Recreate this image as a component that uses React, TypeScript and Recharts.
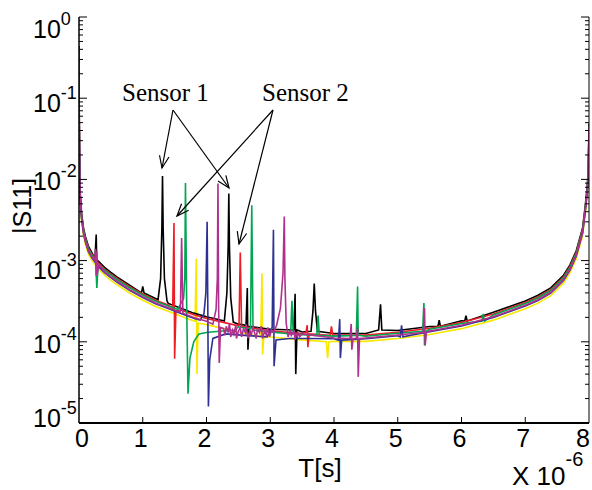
import React from 'react';
import { LineChart, Line, XAxis, YAxis } from 'recharts';

// shared bathtub baseline (T in units of 1e-6 s)
const baseX = [0, 0.004, 0.01, 0.02, 0.04, 0.07, 0.1, 0.15, 0.2, 0.3, 0.4, 0.5, 0.6, 0.8, 1.0, 1.2, 1.4, 1.6, 1.8, 2.0, 2.2, 2.5, 3.0, 3.5, 4.0, 4.5, 5.0, 5.5, 6.0, 6.5, 7.0, 7.2, 7.4, 7.6, 7.7, 7.8, 7.9, 7.94, 7.97, 7.99, 8.0];
const baseY = [0.4, 0.05, 0.015, 6e-3, 3.5e-3, 2.3e-3, 1.8e-3, 1.35e-3, 1.15e-3, 9e-4, 7.5e-4, 6.5e-4, 5.7e-4, 4.5e-4, 3.7e-4, 3.1e-4, 2.7e-4, 2.35e-4, 2.05e-4, 1.85e-4, 1.7e-4, 1.5e-4, 1.3e-4, 1.2e-4, 1.15e-4, 1.15e-4, 1.25e-4, 1.4e-4, 1.65e-4, 2.1e-4, 2.9e-4, 3.4e-4, 4.2e-4, 6e-4, 8e-4, 1.2e-3, 2.3e-3, 4.2e-3, 7e-3, 1.2e-2, 4.4e-2];

// per-trace level relative to the baseline
const levels = { yellow: 0.88, black: 1.1, red: 1.05, green: 1.02, blue: 0.95, magenta: 0.97 };

// resonance spikes / dips, [T, |S11|]
const blackSpikes = [
  [[0.25, 1.05e-3], [0.27, 2.1e-3], [0.28, 8e-4], [0.29, 1.0e-3]],
  [[0.98, 4.0e-4], [1.0, 4.8e-4], [1.02, 4.0e-4]],
  [[1.24, 3.3e-4], [1.28, 6e-4], [1.30, 2.5e-3], [1.31, 1.1e-2], [1.32, 2.5e-3], [1.34, 6e-4], [1.38, 3.2e-4]],
  [[2.28, 1.8e-4], [2.32, 4e-4], [2.34, 1.5e-3], [2.35, 6.7e-3], [2.36, 1.5e-3], [2.38, 3.5e-4], [2.42, 1.75e-4]],
  [[2.62, 1.6e-4], [2.64, 4.6e-4], [2.65, 8e-5], [2.67, 1.55e-4]],
  [[3.37, 1.4e-4], [3.39, 3.9e-4], [3.40, 4e-5], [3.42, 1.4e-4]],
  [[3.64, 1.35e-4], [3.67, 2.4e-4], [3.69, 5.2e-4], [3.71, 2.4e-4], [3.74, 1.35e-4]],
  [[4.70, 1.4e-4], [4.73, 2.9e-4], [4.75, 1.4e-4]],
  [[5.63, 1.55e-4], [5.65, 1.85e-4], [5.67, 1.55e-4]],
  [[6.05, 1.8e-4], [6.07, 2.1e-4], [6.09, 1.8e-4]],
];
const redSpikes = [
  [[1.47, 2.6e-4], [1.49, 2.9e-3], [1.50, 6.2e-5], [1.52, 2.4e-4]],
  [[2.51, 1.6e-4], [2.53, 1.26e-3], [2.55, 1.55e-4]],
  [[3.56, 1.3e-4], [3.58, 1.6e-4], [3.59, 8.6e-5], [3.61, 1.25e-4]],
  [[3.94, 1.2e-4], [3.96, 1.55e-4], [3.98, 1.2e-4]],
];
const greenSpikes = [
  [[0.26, 1.0e-3], [0.28, 4.6e-4], [0.30, 9e-4]],
  [[1.55, 2.5e-4], [1.60, 3.0e-4], [1.64, 3.4e-4], [1.66, 6e-4], [1.67, 9e-3], [1.69, 2.5e-4], [1.71, 2.3e-5], [1.74, 6.3e-5], [1.80, 1.0e-4], [1.88, 1.25e-4], [2.0, 1.3e-4], [2.2, 1.35e-4], [2.45, 1.4e-4]],
  [[2.69, 1.45e-4], [2.71, 4.8e-3], [2.73, 1.4e-4]],
  [[3.32, 1.25e-4], [3.34, 3.2e-4], [3.36, 1.25e-4]],
  [[3.73, 1.2e-4], [3.75, 2.1e-4], [3.77, 1.2e-4]],
  [[4.35, 1.2e-4], [4.37, 4.8e-4], [4.38, 1.2e-4]],
  [[5.39, 1.35e-4], [5.41, 3e-4], [5.42, 9e-5], [5.44, 1.35e-4]],
  [[6.32, 1.8e-4], [6.34, 2.2e-4], [6.36, 1.8e-4]],
];
const yellowSpikes = [
  [[1.82, 1.8e-4], [1.84, 1.05e-3], [1.85, 4e-5], [1.87, 1.7e-4]],
  [[2.85, 1.15e-4], [2.87, 7e-4], [2.88, 7e-5], [2.90, 1.15e-4]],
  [[3.88, 1.0e-4], [3.90, 6.3e-5], [3.92, 1.0e-4]],
];
const blueSpikes = [
  [[1.90, 1.85e-4], [1.96, 2.2e-4], [1.99, 4e-4], [2.01, 3e-3], [2.02, 3e-4], [2.03, 1.6e-5], [2.05, 6e-5], [2.10, 1.1e-4], [2.3, 1.25e-4], [2.6, 1.2e-4], [2.95, 1.15e-4], [3.03, 1.5e-4], [3.05, 2.4e-3], [3.06, 5e-5], [3.09, 1.05e-4], [3.3, 1.1e-4], [3.6, 1.1e-4]],
  [[4.07, 1.05e-4], [4.09, 1.9e-4], [4.10, 6.3e-5], [4.12, 1.05e-4]],
  [[5.04, 1.15e-4], [5.06, 1.6e-4], [5.08, 1.15e-4]],
];
const magentaSpikes = [
  [[0.25, 1.0e-3], [0.26, 1.4e-3], [0.27, 6.5e-4], [0.28, 1.3e-3], [0.29, 7e-4], [0.31, 9e-4]],
  [[1.59, 2.3e-4], [1.61, 1.9e-3], [1.63, 2.25e-4]],
  [[2.10, 1.65e-4], [2.15, 2.5e-4], [2.17, 6e-4], [2.18, 8.9e-3], [2.19, 3e-4], [2.20, 5.5e-5], [2.22, 1.5e-4]],
  [[2.27, 1.45e-4], [2.29, 1.2e-4], [2.31, 1.55e-4], [2.34, 1.3e-4], [2.36, 1.7e-4], [2.38, 1.15e-4], [2.41, 1.4e-4], [2.43, 1.25e-4], [2.46, 1.6e-4], [2.47, 1.1e-4], [2.50, 1.35e-4], [2.53, 1.5e-4], [2.55, 1.15e-4], [2.58, 1.45e-4], [2.61, 1.3e-4], [2.62, 1.65e-4], [2.65, 1.1e-4], [2.68, 1.4e-4], [2.70, 1.2e-4], [2.73, 1.5e-4], [2.76, 1.25e-4], [2.78, 1.1e-4], [2.80, 1.45e-4], [2.83, 1.3e-4], [2.86, 1.55e-4], [2.88, 1.1e-4], [2.91, 1.35e-4], [2.94, 1.2e-4], [2.96, 1.5e-4], [2.99, 1.15e-4], [3.02, 1.4e-4], [3.05, 1.3e-4]],
  [[3.10, 1.6e-4], [3.16, 2.6e-4], [3.20, 7e-4], [3.22, 3.5e-3], [3.23, 6e-4], [3.25, 1.7e-4], [3.28, 1.15e-4], [3.31, 1.4e-4], [3.33, 1.2e-4], [3.37, 1.35e-4], [3.39, 1.1e-4], [3.43, 1.3e-4], [3.46, 1.15e-4], [3.50, 1.25e-4]],
  [[4.25, 1.1e-4], [4.27, 1.66e-4], [4.28, 8e-5], [4.30, 1.1e-4]],
  [[4.35, 1.1e-4], [4.37, 1.5e-4], [4.38, 3.7e-5], [4.40, 1.1e-4]],
  [[5.40, 1.3e-4], [5.42, 2.6e-4], [5.43, 9e-5], [5.45, 1.3e-4]],
];

const xTicks = [0, 1, 2, 3, 4, 5, 6, 7, 8];
const yDecades = [1e-5, 1e-4, 1e-3, 1e-2, 1e-1, 1];

// baseline points outside the spike segments + the spike points
function build(level: number, segs: number[][][]) {
  const pts: { x: number; y: number }[] = [];
  baseX.forEach((x, i) => {
    const inside = segs.some((s) => x >= s[0][0] && x <= s[s.length - 1][0]);
    if (!inside) pts.push({ x, y: baseY[i] * level });
  });
  segs.forEach((s) => s.forEach(([x, y]) => pts.push({ x, y })));
  return pts.sort((a, b) => a.x - b.x);
}

const series = [
  { key: 'yellow', color: '#f7e800', data: build(levels.yellow, yellowSpikes) },
  { key: 'black', color: '#000000', data: build(levels.black, blackSpikes) },
  { key: 'red', color: '#ee1c25', data: build(levels.red, redSpikes) },
  { key: 'green', color: '#00a651', data: build(levels.green, greenSpikes) },
  { key: 'blue', color: '#2e3192', data: build(levels.blue, blueSpikes) },
  { key: 'magenta', color: '#b0308e', data: build(levels.magenta, magentaSpikes) },
];

const yTicks: number[] = [];
yDecades.forEach((d, i) => {
  yTicks.push(d);
  if (i < yDecades.length - 1) for (let m = 2; m <= 9; m++) yTicks.push(d * m);
});

const isDecade = (v: number) => Math.abs(Math.log10(v) - Math.round(Math.log10(v))) < 1e-6;
const SANS = '"Liberation Sans", Arial, sans-serif';
const SERIF = '"Liberation Serif", "Times New Roman", serif';
// label baseline offset below the tick, per exponent
const labelDy: Record<string, number> = { '0': 21, '-1': 14, '-2': 11, '-3': 18, '-4': 11, '-5': 4 };

const LeftTick = (props: any) => {
  const { x, y, payload } = props;
  const major = isDecade(payload.value);
  const exp = String(Math.round(Math.log10(payload.value)));
  return (
    <g>
      <line x1={x} x2={x + (major ? 8 : 4)} y1={y} y2={y} stroke="#000" strokeWidth={1} />
      {major && (
        <text x={33} y={y + labelDy[exp]} fontFamily={SANS} fontSize={25} fill="#000">
          10<tspan dy={-13} fontSize={18}>{exp}</tspan>
        </text>
      )}
    </g>
  );
};

const RightTick = (props: any) => {
  const { x, y, payload } = props;
  const major = isDecade(payload.value);
  return <line x1={x} x2={x - (major ? 8 : 4)} y1={y} y2={y} stroke="#000" strokeWidth={1} />;
};

const BottomTick = (props: any) => {
  const { x, y, payload } = props;
  const v = payload.value;
  const tx = v === 0 ? x + 3 : v === 8 ? x - 6 : x - 2;
  return (
    <g>
      {v > 0 && v < 8 && <line x1={x} x2={x} y1={y} y2={y - 6} stroke="#000" strokeWidth={1} />}
      <text x={tx} y={y + 24} textAnchor="middle" fontFamily={SANS} fontSize={25} fill="#000">
        {v}
      </text>
    </g>
  );
};

const TopTick = (props: any) => {
  const { x, y, payload } = props;
  const v = payload.value;
  if (v <= 0 || v >= 8) return <g />;
  return <line x1={x} x2={x} y1={y} y2={y + 6} stroke="#000" strokeWidth={1} />;
};

function Arrow({ x1, y1, x2, y2 }: { x1: number; y1: number; x2: number; y2: number }) {
  const a = Math.atan2(y2 - y1, x2 - x1);
  const L = 13;
  const w = 0.38;
  return (
    <g stroke="#000" strokeWidth={1.2} fill="none">
      <line x1={x1} y1={y1} x2={x2} y2={y2} />
      <polyline
        points={`${x2 - L * Math.cos(a - w)},${y2 - L * Math.sin(a - w)} ${x2},${y2} ${x2 - L * Math.cos(a + w)},${y2 - L * Math.sin(a + w)}`}
      />
    </g>
  );
}

export default function App() {
  return (
    <div style={{ position: 'absolute', left: 0, top: 0, width: 592, height: 490, background: '#fff' }}>
      <LineChart width={592} height={490} data={[]} margin={{ top: 17, right: 0, bottom: 0, left: 0 }}>
        <XAxis
          xAxisId="b"
          type="number"
          dataKey="x"
          domain={[0, 8]}
          ticks={xTicks}
          interval={0}
          height={67}
          tickSize={0}
          tickMargin={0}
          tickLine={false}
          tick={<BottomTick />}
          axisLine={{ stroke: '#000', strokeWidth: 2 }}
          allowDataOverflow
        />
        <XAxis
          xAxisId="t"
          orientation="top"
          type="number"
          dataKey="x"
          domain={[0, 8]}
          ticks={xTicks}
          interval={0}
          height={0}
          tickSize={0}
          tickMargin={0}
          tickLine={false}
          tick={<TopTick />}
          axisLine={{ stroke: '#000', strokeWidth: 1 }}
          allowDataOverflow
        />
        <YAxis
          yAxisId="l"
          type="number"
          scale="log"
          domain={[1e-5, 1]}
          ticks={yTicks}
          interval={0}
          width={79}
          tickSize={0}
          tickMargin={0}
          tickLine={false}
          tick={<LeftTick />}
          axisLine={{ stroke: '#000', strokeWidth: 1.5 }}
          allowDataOverflow
        />
        <YAxis
          yAxisId="r"
          orientation="right"
          type="number"
          scale="log"
          domain={[1e-5, 1]}
          ticks={yTicks}
          interval={0}
          width={3}
          tickSize={0}
          tickMargin={0}
          tickLine={false}
          tick={<RightTick />}
          axisLine={{ stroke: '#000', strokeWidth: 1 }}
          allowDataOverflow
        />
        {series.map((s) => (
          <Line
            key={s.key}
            xAxisId="b"
            yAxisId="l"
            data={s.data}
            dataKey="y"
            type="linear"
            stroke={s.color}
            strokeWidth={1.6}
            dot={false}
            activeDot={false}
            isAnimationActive={false}
          />
        ))}
      </LineChart>
      <svg width={592} height={490} style={{ position: 'absolute', left: 0, top: 0, pointerEvents: 'none' }}>
        <text x={122} y={101} fontFamily={SERIF} fontSize={25} fill="#000">Sensor 1</text>
        <text x={262} y={101} fontFamily={SERIF} fontSize={25} fill="#000">Sensor 2</text>
        <Arrow x1={173} y1={110} x2={162} y2={168} />
        <Arrow x1={173} y1={110} x2={229} y2={188} />
        <Arrow x1={273} y1={110} x2={177} y2={216} />
        <Arrow x1={273} y1={110} x2={239} y2={244} />
        <text x={22} y={206} transform="rotate(-90 22 206)" dy={9} textAnchor="middle" fontFamily={SANS} fontSize={25} fill="#000">
          |S11]
        </text>
        <text x={320} y={477} textAnchor="middle" fontFamily={SANS} fontSize={26} fill="#000">T[s]</text>
        <text x={512} y={485} fontFamily={SANS} fontSize={26} fill="#000">
          X 10<tspan dy={-19} fontSize={20}>-6</tspan>
        </text>
      </svg>
    </div>
  );
}
